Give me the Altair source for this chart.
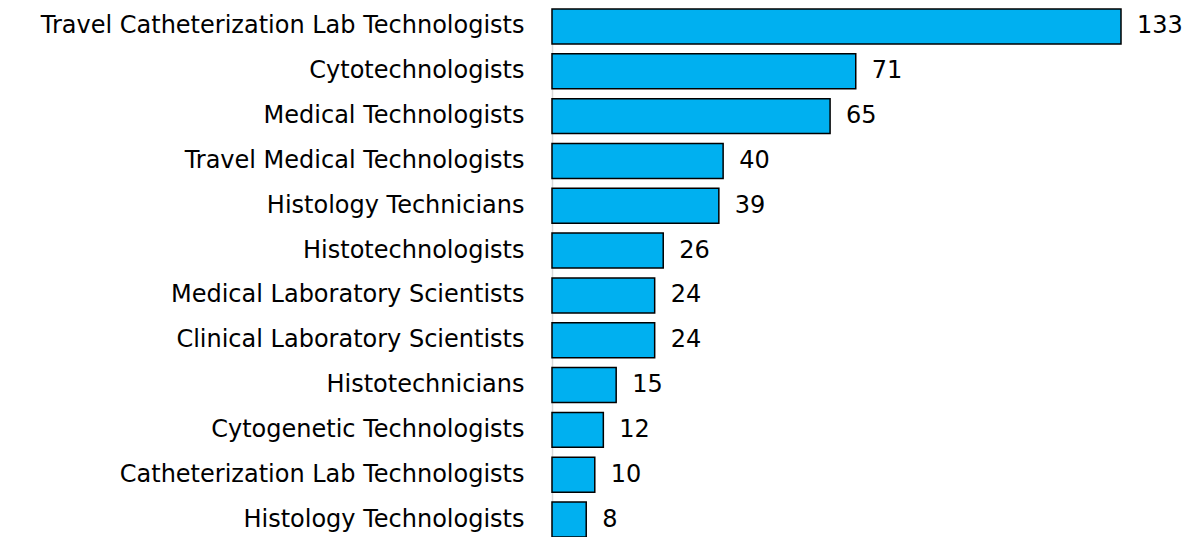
import altair as alt
import pandas as pd

categories = [
    "Travel Catheterization Lab Technologists",
    "Cytotechnologists",
    "Medical Technologists",
    "Travel Medical Technologists",
    "Histology Technicians",
    "Histotechnologists",
    "Medical Laboratory Scientists",
    "Clinical Laboratory Scientists",
    "Histotechnicians",
    "Cytogenetic Technologists",
    "Catheterization Lab Technologists",
    "Histology Technologists",
]
values = [133, 71, 65, 40, 39, 26, 24, 24, 15, 12, 10, 8]

df = pd.DataFrame({"category": categories, "value": values})

FONT = "DejaVu Sans"

y = alt.Y(
    "category:N",
    sort=categories,
    title=None,
    scale=alt.Scale(paddingInner=0.22, paddingOuter=0.0),
    axis=alt.Axis(
        ticks=False,
        labelPadding=28,
        labelFontSize=24,
        labelFont=FONT,
        labelColor="#000000",
        labelLimit=600,
        domainColor="#d9d9d9",
        domainWidth=1.5,
        minExtent=544,
        maxExtent=544,
    ),
)
x = alt.X(
    "value:Q",
    title=None,
    scale=alt.Scale(domain=[0, 133], nice=False, zero=True),
    axis=None,
)

bars = alt.Chart(df).mark_bar(
    color="#00B0F0", stroke="#000000", strokeWidth=1.5
).encode(x=x, y=y)

labels = alt.Chart(df).mark_text(
    align="left", baseline="middle", dx=16, fontSize=24, font=FONT, color="#000000"
).encode(x=x, y=y, text="value:Q")

chart = (
    (bars + labels)
    .properties(width=569, height=528, padding=0)
    .configure_view(stroke=None)
    .configure_axis(grid=False)
)

chart.save("out.html", embed_options={"renderer": "svg", "actions": False})
